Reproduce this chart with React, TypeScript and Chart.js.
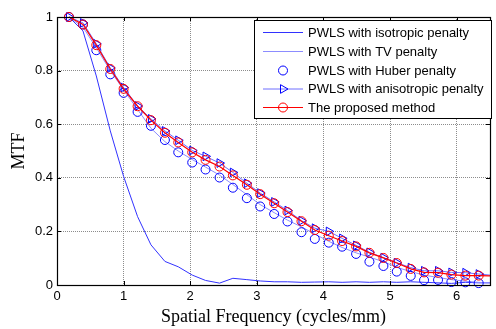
import React, { useEffect, useRef } from "react";
import { Chart, registerables } from "chart.js";

Chart.register(...registerables);

const freq = [0.18, 0.39, 0.59, 0.80, 1.00, 1.21, 1.41, 1.62, 1.82, 2.03, 2.23, 2.44, 2.64, 2.85, 3.05, 3.26, 3.46, 3.67, 3.87, 4.08, 4.28, 4.49, 4.69, 4.90, 5.10, 5.31, 5.51, 5.72, 5.92, 6.13, 6.33, 6.5];

const isotropic = [1.0, 0.948, 0.78, 0.575, 0.405, 0.255, 0.15, 0.088, 0.068, 0.037, 0.017, 0.007, 0.025, 0.02, 0.015, 0.012, 0.012, 0.01, 0.011, 0.012, 0.01, 0.012, 0.01, 0.012, 0.01, 0.012, 0.01, 0.008, 0.006, 0.01, 0.008, 0.008];
const tv = [1.0, 0.962, 0.885, 0.80, 0.728, 0.655, 0.585, 0.535, 0.50, 0.468, 0.44, 0.41, 0.375, 0.337, 0.30, 0.27, 0.242, 0.217, 0.19, 0.163, 0.14, 0.12, 0.104, 0.087, 0.066, 0.05, 0.037, 0.028, 0.02, 0.014, 0.01, 0.008];
const huber = [1.0, 0.972, 0.876, 0.786, 0.717, 0.646, 0.594, 0.541, 0.495, 0.457, 0.431, 0.401, 0.363, 0.324, 0.293, 0.265, 0.237, 0.197, 0.172, 0.158, 0.143, 0.116, 0.087, 0.071, 0.05, 0.034, 0.018, 0.019, 0.011, 0.01, 0.007, null];
const anisotropic = [1.0, 0.978, 0.90, 0.81, 0.737, 0.668, 0.62, 0.575, 0.54, 0.502, 0.48, 0.455, 0.42, 0.38, 0.343, 0.31, 0.278, 0.24, 0.212, 0.2, 0.174, 0.148, 0.122, 0.102, 0.083, 0.065, 0.053, 0.053, 0.047, 0.046, 0.041, 0.037];
const proposed = [1.0, 0.972, 0.895, 0.806, 0.732, 0.667, 0.615, 0.568, 0.532, 0.495, 0.467, 0.442, 0.409, 0.374, 0.339, 0.305, 0.272, 0.238, 0.205, 0.184, 0.164, 0.144, 0.12, 0.101, 0.082, 0.06, 0.047, 0.046, 0.039, 0.035, 0.035, 0.034];

const xTicks = [0, 1, 2, 3, 4, 5, 6];
const yTicks = [0, 0.2, 0.4, 0.6, 0.8, 1];

const seriesLabels = [
  "PWLS with isotropic penalty",
  "PWLS with TV penalty",
  "PWLS with Huber penalty",
  "PWLS with anisotropic penalty",
  "The proposed method",
];

const SANS = "'Liberation Sans', Arial, sans-serif";
const SERIF = "'Liberation Serif', 'Times New Roman', serif";

const toPts = (ys: (number | null)[]) => freq.map((x, i) => ({ x, y: ys[i] }));
const lastIdx = freq.length - 1;
const markerRadius = (r: number) => (ctx: any) => (ctx.dataIndex === lastIdx ? 0 : r);

const framePlugin = {
  id: "frame",
  afterDatasetsDraw(chart: any) {
    const { ctx, chartArea: a, scales } = chart;
    ctx.save();
    ctx.strokeStyle = "#000";
    ctx.lineWidth = 1;
    ctx.setLineDash([]);
    ctx.beginPath();
    const tl = 4;
    xTicks.forEach((v) => {
      const px = Math.round(scales.x.getPixelForValue(v)) + 0.5;
      ctx.moveTo(px, a.bottom);
      ctx.lineTo(px, a.bottom - tl);
      ctx.moveTo(px, a.top);
      ctx.lineTo(px, a.top + tl);
    });
    yTicks.forEach((v) => {
      const py = Math.round(scales.y.getPixelForValue(v)) + 0.5;
      ctx.moveTo(a.left, py);
      ctx.lineTo(a.left + tl, py);
      ctx.moveTo(a.right, py);
      ctx.lineTo(a.right - tl, py);
    });
    ctx.stroke();
    ctx.lineWidth = 1.2;
    ctx.strokeRect(Math.round(a.left) + 0.5, Math.round(a.top) + 0.5, Math.round(a.right - a.left), Math.round(a.bottom - a.top));
    ctx.restore();
  },
  afterDraw(chart: any) {
    const { ctx } = chart;
    const datasets = chart.data.datasets;
    ctx.save();
    const bx = 254.5, by = 20.5, bw = 237, bh = 98;
    ctx.fillStyle = "#fff";
    ctx.fillRect(bx, by, bw, bh);
    ctx.strokeStyle = "#000";
    ctx.lineWidth = 1;
    ctx.strokeRect(bx, by, bw, bh);
    const rowY = [32.5, 51.5, 70.5, 89, 107.5];
    datasets.forEach((ds: any, i: number) => {
      const y = rowY[i];
      if (ds.showLine !== false) {
        ctx.strokeStyle = ds.borderColor;
        ctx.lineWidth = 1;
        ctx.beginPath();
        ctx.moveTo(263, y);
        ctx.lineTo(303, y);
        ctx.stroke();
      }
      if (ds.legendMarker) {
        const mx = 283;
        const r = ds.legendMarker.r;
        ctx.strokeStyle = ds.pointBorderColor;
        ctx.lineWidth = 1;
        ctx.beginPath();
        if (ds.legendMarker.type === "circle") {
          ctx.arc(mx, y, r, 0, Math.PI * 2);
        } else {
          ctx.moveTo(mx + r, y);
          ctx.lineTo(mx - 0.5 * r, y + 0.866 * r);
          ctx.lineTo(mx - 0.5 * r, y - 0.866 * r);
          ctx.closePath();
        }
        ctx.stroke();
      }
      ctx.fillStyle = "#000";
      ctx.font = `13px ${SANS}`;
      ctx.textBaseline = "middle";
      ctx.textAlign = "left";
      ctx.fillText(ds.label, 308, y + 0.5);
    });
    ctx.restore();
  },
};

export default function App() {
  const ref = useRef<HTMLCanvasElement | null>(null);
  useEffect(() => {
    document.body.style.margin = "0";
    if (!ref.current) return;
    const chart = new Chart(ref.current, {
      type: "line",
      data: {
        datasets: [
          {
            label: seriesLabels[0],
            data: toPts(isotropic),
            borderColor: "rgb(50,50,255)",
            borderWidth: 1,
            pointRadius: 0,
            order: 4,
            clip: false,
          } as any,
          {
            label: seriesLabels[1],
            data: toPts(tv),
            borderColor: "rgb(140,140,255)",
            borderWidth: 1,
            pointRadius: 0,
            order: 3,
            clip: false,
          },
          {
            label: seriesLabels[2],
            data: toPts(huber),
            showLine: false,
            borderColor: "rgb(0,0,255)",
            pointBorderColor: "rgb(0,0,255)",
            pointBackgroundColor: "rgba(0,0,0,0)",
            pointBorderWidth: 1,
            pointRadius: markerRadius(4.5),
            pointStyle: "circle",
            legendMarker: { type: "circle", r: 4.5 },
            order: 2,
            clip: false,
          },
          {
            label: seriesLabels[3],
            data: toPts(anisotropic),
            borderColor: "rgb(110,110,255)",
            borderWidth: 1,
            pointBorderColor: "rgb(0,0,255)",
            pointBackgroundColor: "rgba(0,0,0,0)",
            pointBorderWidth: 1,
            pointRadius: markerRadius(5),
            pointStyle: "triangle",
            pointRotation: 90,
            legendMarker: { type: "triangle", r: 5 },
            order: 1,
            clip: false,
          },
          {
            label: seriesLabels[4],
            data: toPts(proposed),
            borderColor: "rgb(255,0,0)",
            borderWidth: 1.2,
            pointBorderColor: "rgb(255,0,0)",
            pointBackgroundColor: "rgba(0,0,0,0)",
            pointBorderWidth: 1,
            pointRadius: markerRadius(4.5),
            pointStyle: "circle",
            legendMarker: { type: "circle", r: 4.5 },
            order: 0,
            clip: false,
          },
        ] as any,
      },
      options: {
        animation: false,
        responsive: false,
        events: [],
        layout: { padding: { left: 0, right: 1, top: 17, bottom: 0 } },
        plugins: { legend: { display: false }, tooltip: { enabled: false } },
        elements: { line: { tension: 0 } },
        scales: {
          x: {
            type: "linear",
            min: 0,
            max: 6.5,
            afterFit: (s: any) => { s.height = 44; },
            afterBuildTicks: (s: any) => { s.ticks = xTicks.map((v) => ({ value: v })); },
            grid: { color: "#8c8c8c", drawTicks: false, lineWidth: 1 },
            border: { display: false, dash: [1, 1] },
            ticks: {
              color: "#000",
              font: { family: SANS, size: 13 },
              padding: 4,
              maxRotation: 0,
              callback: (v: any) => String(v),
            },
            title: {
              display: true,
              text: "Spatial Frequency (cycles/mm)",
              color: "#000",
              font: { family: SERIF, size: 18 },
              padding: { top: 0, bottom: 1 },
            },
          },
          y: {
            type: "linear",
            min: 0,
            max: 1,
            afterFit: (s: any) => { s.width = 57; },
            afterBuildTicks: (s: any) => { s.ticks = yTicks.map((v) => ({ value: v })); },
            grid: { color: "#8c8c8c", drawTicks: false, lineWidth: 1 },
            border: { display: false, dash: [1, 1] },
            ticks: {
              color: "#000",
              font: { family: SANS, size: 13 },
              padding: 4,
              callback: (v: any) => String(Number(Number(v).toFixed(1))),
            },
            title: {
              display: true,
              text: "MTF",
              color: "#000",
              font: { family: SERIF, size: 18 },
              padding: { top: 8, bottom: 0 },
            },
          },
        },
      },
      plugins: [framePlugin],
    } as any);
    return () => chart.destroy();
  }, []);
  return (
    <div style={{ width: 496, height: 329 }}>
      <canvas ref={ref} width={496} height={329} style={{ display: "block" }} />
    </div>
  );
}
